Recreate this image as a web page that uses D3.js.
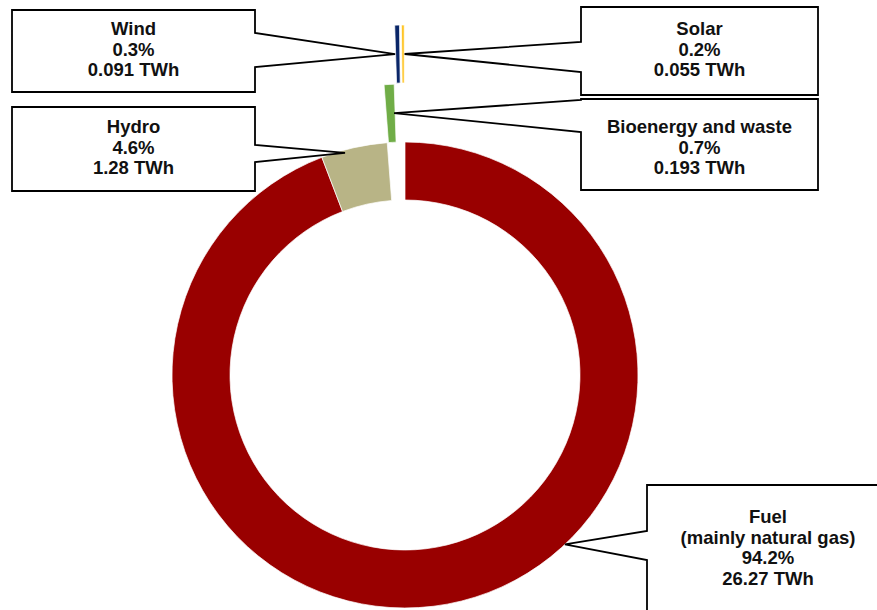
<!DOCTYPE html>
<html>
<head>
<meta charset="utf-8">
<script src="https://cdn.jsdelivr.net/npm/d3@7"></script>
<style>
  html, body { margin: 0; padding: 0; background: #fff; }
  svg { display: block; }
  text { font-family: "Liberation Sans", Arial, sans-serif; font-weight: bold; fill: #111; }
</style>
</head>
<body>
<svg id="chart" width="877" height="610"></svg>
<script>
// Electricity generation by source
const categories = ["Fuel", "Hydro", "Bioenergy and waste", "Wind", "Solar"];
const labelTitles = [["Fuel", "(mainly natural gas)"], ["Hydro"], ["Bioenergy and waste"], ["Wind"], ["Solar"]];
const twh = [26.27, 1.28, 0.193, 0.091, 0.055];
const shares = [94.2, 4.6, 0.7, 0.3, 0.2];
const colors = ["#990000", "#B8B486", "#70AD47", "#0A2668", "#FFC526"];

// Geometry of the ring
const cx = 405, cy = 375, outerR = 233, innerR = 175;
// Radial pull-out of each slice (px)
const explode = [0, 0, 58, 117, 117];

// Callout boxes: rectangle, side of the pointer, pointer base, pointer tip (fraction of slice angle, radius)
const callouts = [
  { box: [647, 485, 889, 611], side: "left",  base: [531, 560], tipFrac: 0.403, tipR: 233, textY: 523 },
  { box: [12, 107, 255, 191],  side: "right", base: [145, 162], tipFrac: 0.35,  tipR: 230, textY: 133 },
  { box: [581, 99, 818, 190],  side: "left",  base: [100, 132], tipFrac: 0.8,   tipR: 204, textY: 133 },
  { box: [12, 10, 255, 92],    side: "right", base: [33, 67],   tipFrac: 0.1,   tipR: 204, textY: 35 },
  { box: [581, 7, 818, 95],    side: "left",  base: [42, 72],   tipFrac: 0.9,   tipR: 204, textY: 35 }
];
const lineGap = 20.5;

const svg = d3.select("#chart");

const pie = d3.pie().sort(null).value(d => d).startAngle(0).endAngle(2 * Math.PI);
const arcs = pie(twh);
const arc = d3.arc().innerRadius(innerR).outerRadius(outerR);

const offsetOf = (d, i) => {
  const mid = (d.startAngle + d.endAngle) / 2;
  return [explode[i] * Math.sin(mid), -explode[i] * Math.cos(mid)];
};

const g = svg.append("g").attr("transform", `translate(${cx},${cy})`);

g.selectAll("path.slice")
  .data(arcs)
  .join("path")
  .attr("class", "slice")
  .attr("d", arc)
  .attr("fill", (d, i) => colors[i])
  .attr("stroke", "#fff")
  .attr("stroke-width", 0.7)
  .attr("transform", (d, i) => {
    const [dx, dy] = offsetOf(d, i);
    return `translate(${dx},${dy})`;
  });

// Callout labels
const calloutPath = (c, tip) => {
  const [x0, y0, x1, y1] = c.box;
  const [b0, b1] = c.base;
  const p = d3.path();
  if (c.side === "right") {
    p.moveTo(x0, y0); p.lineTo(x1, y0); p.lineTo(x1, b0);
    p.lineTo(tip[0], tip[1]);
    p.lineTo(x1, b1); p.lineTo(x1, y1); p.lineTo(x0, y1); p.closePath();
  } else {
    p.moveTo(x0, y0); p.lineTo(x1, y0); p.lineTo(x1, y1); p.lineTo(x0, y1);
    p.lineTo(x0, b1);
    p.lineTo(tip[0], tip[1]);
    p.lineTo(x0, b0); p.closePath();
  }
  return p.toString();
};

const labels = svg.append("g");
arcs.forEach((d, i) => {
  const c = callouts[i];
  const a = d.startAngle + c.tipFrac * (d.endAngle - d.startAngle);
  const r = c.tipR + explode[i];
  const tip = [cx + r * Math.sin(a), cy - r * Math.cos(a)];

  labels.append("path")
    .attr("d", calloutPath(c, tip))
    .attr("fill", "#fff")
    .attr("stroke", "#000")
    .attr("stroke-width", 1.8)
    .attr("stroke-linejoin", "miter");

  const lines = [...labelTitles[i], `${shares[i].toFixed(1)}%`, `${twh[i]} TWh`];
  const tx = (c.box[0] + c.box[2]) / 2;
  const t = labels.append("text")
    .attr("text-anchor", "middle")
    .attr("font-size", 18.5);
  lines.forEach((s, k) => {
    t.append("tspan").attr("x", tx).attr("y", c.textY + k * lineGap).text(s);
  });
});
</script>
</body>
</html>
